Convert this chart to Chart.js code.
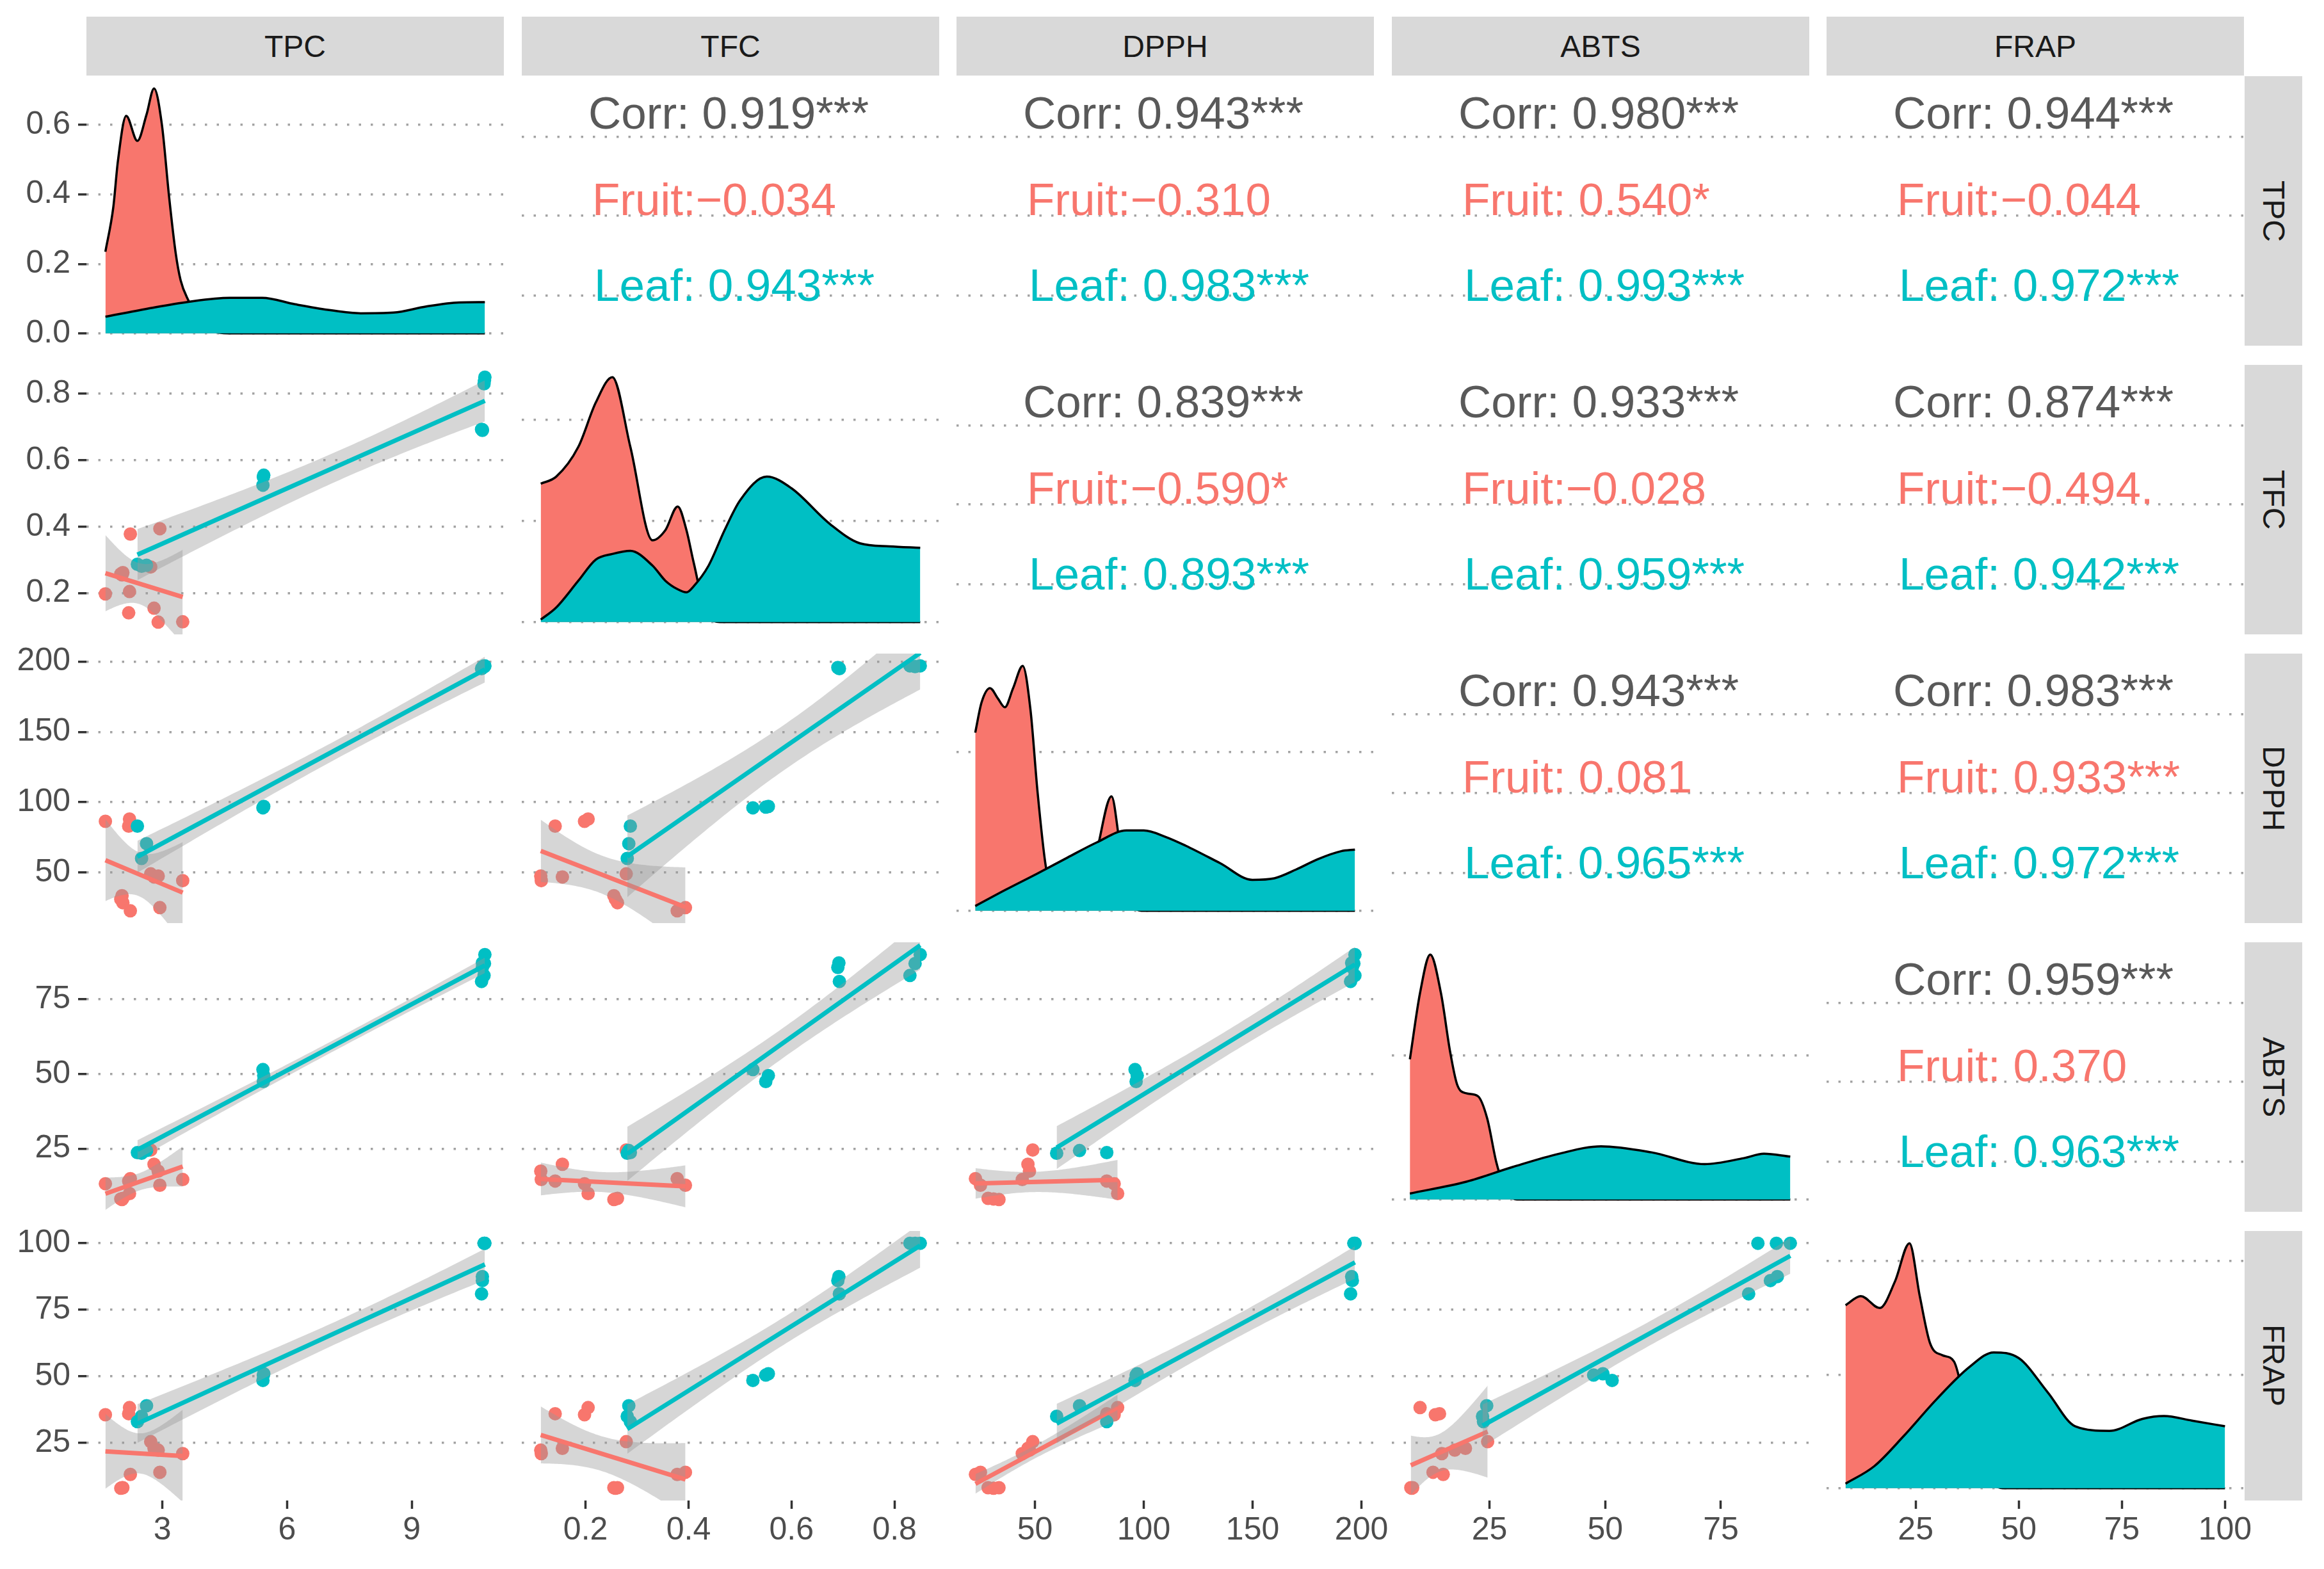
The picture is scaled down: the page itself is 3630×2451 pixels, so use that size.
<!DOCTYPE html>
<html>
<head>
<meta charset="utf-8">
<script src="https://cdn.jsdelivr.net/npm/chart.js@4.4.1/dist/chart.umd.min.js"></script>
<style>
  html, body { margin: 0; padding: 0; background: #fff; }
  body { width: 3630px; height: 2451px; position: relative; overflow: hidden;
         font-family: "Liberation Sans", Arial, sans-serif; }
  .panel { position: absolute; }
  .strip { position: absolute; background: #d9d9d9; color: #1a1a1a; font-size: 48px;
           display: flex; align-items: center; justify-content: center; }
  .strip.right { writing-mode: vertical-rl; }
</style>
</head>
<body>
<script>
const variables = ['TPC', 'TFC', 'DPPH', 'ABTS', 'FRAP'];

// one value per sample, same order in every array of a group
const fruitTPC  = [1.63, 2.21, 2.19, 2.23, 2.03, 2.05, 2.72, 2.80, 3.49, 2.94, 2.90, 2.00];
const fruitTFC  = [0.198, 0.205, 0.141, 0.378, 0.255, 0.262, 0.279, 0.155, 0.114, 0.394, 0.113, 0.258];
const fruitDPPH = [86.4, 88.0, 83.0, 22.7, 33.5, 28.5, 49.0, 46.8, 44.2, 25.0, 47.5, 31.0];
const fruitABTS = [13.3, 10.0, 14.2, 15.0, 8.0, 8.4, 24.6, 19.8, 14.7, 12.8, 17.5, 8.2];
const fruitFRAP = [35.6, 38.3, 36.0, 13.2, 8.2, 8.2, 25.5, 23.0, 21.0, 14.0, 22.3, 8.0];

const leafTPC  = [10.76, 10.75, 10.74, 10.70, 10.70, 10.68, 5.42, 5.44, 5.43, 2.40, 2.62, 2.50];
const leafTFC  = [0.850, 0.840, 0.830, 0.692, 0.690, 0.693, 0.525, 0.555, 0.550, 0.287, 0.284, 0.281];
const leafDPPH = [197.0, 196.5, 197.0, 195.5, 195.8, 195.0, 96.0, 97.0, 96.5, 83.0, 70.5, 60.0];
const leafABTS = [90.0, 87.0, 83.0, 87.2, 85.7, 81.0, 51.5, 49.5, 47.5, 23.7, 24.4, 23.5];
const leafFRAP = [100.0, 100.0, 100.0, 87.5, 86.0, 81.0, 48.5, 51.0, 50.5, 33.0, 39.0, 35.0];

// density curves on the diagonal (x = value, y = density)
const tpcFruitDensX = [1.63, 1.82, 1.93, 2.13, 2.40, 2.62, 2.80, 2.99, 3.16, 3.32, 3.44, 3.63, 3.90, 4.20, 4.60, 10.76];
const tpcFruitDensY = [0.235, 0.363, 0.495, 0.626, 0.554, 0.630, 0.705, 0.600, 0.396, 0.232, 0.153, 0.094, 0.035, 0.008, 0, 0];
const tpcLeafDensX  = [1.63, 2.64, 3.63, 4.62, 5.40, 6.19, 6.98, 7.77, 8.56, 9.35, 10.14, 10.76];
const tpcLeafDensY  = [0.048, 0.071, 0.091, 0.1025, 0.1025, 0.084, 0.068, 0.058, 0.060, 0.0775, 0.089, 0.090];

const tfcFruitDensX = [0.113, 0.143, 0.186, 0.220, 0.252, 0.287, 0.330, 0.355, 0.379, 0.396, 0.410, 0.439, 0.470, 0.850];
const tfcFruitDensY = [2.74, 2.88, 3.47, 4.35, 4.85, 3.47, 1.62, 1.82, 2.29, 1.82, 1.18, 0.06, 0, 0];
const tfcLeafDensX  = [0.113, 0.143, 0.186, 0.220, 0.252, 0.287, 0.330, 0.355, 0.379, 0.396, 0.410, 0.439, 0.470, 0.500, 0.552, 0.600, 0.675, 0.733, 0.790, 0.850];
const tfcLeafDensY  = [0.05, 0.29, 0.82, 1.24, 1.35, 1.41, 1.12, 0.82, 0.65, 0.59, 0.71, 1.12, 1.82, 2.41, 2.88, 2.65, 1.94, 1.56, 1.50, 1.47];

const dpphFruitDensX = [22.6, 25.5, 29.4, 33.0, 36.2, 40.0, 44.4, 48.0, 51.2, 55.0, 59.3, 65.0, 72.0, 78.4, 85.2, 89.0, 93.4, 100, 197];
const dpphFruitDensY = [0.0224, 0.0262, 0.0280, 0.0267, 0.0256, 0.0280, 0.0308, 0.0252, 0.0150, 0.0056, 0.0013, 0.0002, 0.0011, 0.0075, 0.0144, 0.0084, 0.0015, 0, 0];
const dpphLeafDensX  = [22.6, 36.2, 51.2, 65.0, 78.4, 92.0, 100, 110, 119.2, 135, 149.9, 160, 170, 180, 190.7, 197];
const dpphLeafDensY  = [0.0006, 0.0026, 0.0047, 0.0067, 0.0086, 0.0101, 0.0101, 0.0093, 0.0082, 0.0060, 0.0039, 0.0041, 0.0052, 0.0065, 0.0075, 0.0077];

const abtsFruitDensX = [7.8, 10.0, 12.2, 14.5, 16.5, 18.0, 20.0, 22.5, 24.5, 26.5, 28.3, 31.0, 90.0];
const abtsFruitDensY = [0.0487, 0.0718, 0.0851, 0.0718, 0.0513, 0.0400, 0.0369, 0.0359, 0.0282, 0.0128, 0.0041, 0, 0];
const abtsLeafDensX  = [7.8, 20, 30, 40, 49.1, 60, 71.5, 80, 84.3, 90];
const abtsLeafDensY  = [0.0021, 0.0062, 0.0113, 0.0159, 0.0185, 0.0164, 0.0123, 0.0144, 0.0159, 0.0149];

const frapFruitDensX = [8.0, 11.7, 16.3, 20.0, 23.5, 26.0, 28.5, 31.5, 34.3, 37.5, 40.4, 44.0, 47.0, 100];
const frapFruitDensY = [0.0322, 0.0338, 0.0317, 0.0364, 0.0431, 0.0338, 0.0255, 0.0234, 0.0223, 0.0130, 0.0047, 0.0005, 0, 0];
const frapLeafDensX  = [8.0, 15, 22, 30, 38, 43.9, 50, 57, 63.7, 72, 80, 85.2, 92, 100];
const frapLeafDensY  = [0.0008, 0.0039, 0.0091, 0.0156, 0.0213, 0.0239, 0.0229, 0.0169, 0.0109, 0.0101, 0.0122, 0.0127, 0.0119, 0.0109];

const tpcTicks = [3, 6, 9];
const tfcTicks = [0.2, 0.4, 0.6, 0.8];
const dpphTicks = [50, 100, 150, 200];
const abtsTicks = [25, 50, 75];
const frapTicks = [25, 50, 75, 100];
const densityTicks = [0.0, 0.2, 0.4, 0.6];

// upper triangle, row by row
const corrPairs = [['TPC', 'TFC'], ['TPC', 'DPPH'], ['TPC', 'ABTS'], ['TPC', 'FRAP'],
                   ['TFC', 'DPPH'], ['TFC', 'ABTS'], ['TFC', 'FRAP'],
                   ['DPPH', 'ABTS'], ['DPPH', 'FRAP'], ['ABTS', 'FRAP']];
const corrTotal = ['0.919***', '0.943***', '0.980***', '0.944***', '0.839***', '0.933***', '0.874***', '0.943***', '0.983***', '0.959***'];
const corrFruit = ['-0.034', '-0.310', '0.540*', '-0.044', '-0.590*', '-0.028', '-0.494.', '0.081', '0.933***', '0.370'];
const corrLeaf  = ['0.943***', '0.983***', '0.993***', '0.972***', '0.893***', '0.959***', '0.942***', '0.965***', '0.972***', '0.963***'];

const FRUIT = '#F8766D';
const LEAF = '#00BFC4';
const GRID = '#a3a3a3';
const FONT = '"Liberation Sans", Arial, sans-serif';

// page layout (pixels)
const LEFT0 = 135, COL_STEP = 679.5, PW = 652;
const TOP0 = 119, ROW_STEP = 451, PH = 421;
const AXIS_W = 135, AXIS_H = 107, M = 50;

Chart.defaults.font.family = FONT;

const fruit = { TPC: fruitTPC, TFC: fruitTFC, DPPH: fruitDPPH, ABTS: fruitABTS, FRAP: fruitFRAP };
const leaf = { TPC: leafTPC, TFC: leafTFC, DPPH: leafDPPH, ABTS: leafABTS, FRAP: leafFRAP };
const tickSets = { TPC: tpcTicks, TFC: tfcTicks, DPPH: dpphTicks, ABTS: abtsTicks, FRAP: frapTicks };
const decimals = { TPC: 0, TFC: 1, DPPH: 0, ABTS: 0, FRAP: 0 };
const densities = {
    TPC:  { fx: tpcFruitDensX,  fy: tpcFruitDensY,  lx: tpcLeafDensX,  ly: tpcLeafDensY },
    TFC:  { fx: tfcFruitDensX,  fy: tfcFruitDensY,  lx: tfcLeafDensX,  ly: tfcLeafDensY },
    DPPH: { fx: dpphFruitDensX, fy: dpphFruitDensY, lx: dpphLeafDensX, ly: dpphLeafDensY },
    ABTS: { fx: abtsFruitDensX, fy: abtsFruitDensY, lx: abtsLeafDensX, ly: abtsLeafDensY },
    FRAP: { fx: frapFruitDensX, fy: frapFruitDensY, lx: frapLeafDensX, ly: frapLeafDensY }
};

const mean = a => a.reduce((s, v) => s + v, 0) / a.length;

// linear fit with 95% band, like geom_smooth(method = "lm")
const T95 = { 8: 2.306, 9: 2.262, 10: 2.228, 11: 2.201 };
const lmFit = (xs, ys) => {
    const n = xs.length, mx = mean(xs), my = mean(ys);
    let sxx = 0, sxy = 0;
    xs.forEach((x, k) => { sxx += (x - mx) ** 2; sxy += (x - mx) * (ys[k] - my); });
    const b = sxy / sxx, a = my - b * mx;
    const s = Math.sqrt(xs.reduce((acc, x, k) => acc + (ys[k] - a - b * x) ** 2, 0) / (n - 2));
    const t = T95[n - 2] || 2.2;
    const lo = Math.min(...xs), hi = Math.max(...xs);
    const upper = [], lower = [];
    for (let i = 0; i < 80; i++) {
        const x = lo + (hi - lo) * i / 79;
        const half = t * s * Math.sqrt(1 / n + (x - mx) ** 2 / sxx);
        upper.push({ x, y: a + b * x + half });
        lower.push({ x, y: a + b * x - half });
    }
    return { line: [{ x: lo, y: a + b * lo }, { x: hi, y: a + b * hi }], upper, lower };
};

const range = v => {
    const all = fruit[v].concat(leaf[v]);
    const lo = Math.min(...all), hi = Math.max(...all), p = (hi - lo) * 0.05;
    return [lo - p, hi + p];
};

const fmtValue = s => (s[0] === '-' ? '\u2212' + s.slice(1) : ' ' + s);
const toPoints = (xs, ys) => xs.map((x, k) => ({ x, y: ys[k] }));

function scatterDatasets(xVar, yVar) {
    const sets = [];
    const pts = (g, color, order) => ({
        type: 'scatter', order,
        data: toPoints(g[xVar], g[yVar]),
        pointRadius: 10.5, pointBackgroundColor: color, pointBorderWidth: 0
    });
    sets.push(pts(fruit, FRUIT, 7), pts(leaf, LEAF, 6));
    [[fruit, FRUIT, 5], [leaf, LEAF, 2]].forEach(([g, color, o]) => {
        const f = lmFit(g[xVar], g[yVar]);
        sets.push({ type: 'line', order: o, data: f.upper, fill: '+1', backgroundColor: 'rgba(153,153,153,0.4)',
                    borderColor: 'transparent', borderWidth: 0, pointRadius: 0 });
        sets.push({ type: 'line', order: o, data: f.lower, fill: false,
                    borderColor: 'transparent', borderWidth: 0, pointRadius: 0 });
        sets.push({ type: 'line', order: o - 1, data: f.line, fill: false,
                    borderColor: color, borderWidth: 7, pointRadius: 0 });
    });
    return sets;
}

function makePanel(i, j) {
    const xVar = variables[j], yVar = variables[i];
    const axisW = j === 0 ? AXIS_W : 0, axisH = i === 4 ? AXIS_H : 0;
    const left = Math.round(LEFT0 + j * COL_STEP) - axisW - M;
    const top = TOP0 + i * ROW_STEP - M;
    const w = M + axisW + PW + M, h = M + PH + axisH + M;

    const box = document.createElement('div');
    box.className = 'panel';
    Object.assign(box.style, { left: left + 'px', top: top + 'px', width: w + 'px', height: h + 'px' });
    const canvas = document.createElement('canvas');
    box.appendChild(canvas);
    document.body.appendChild(box);

    const xr = range(xVar);
    let datasets = [], yMin, yMax, yTicks = null, yDec = decimals[yVar], plugins = [];

    if (i > j) {
        datasets = scatterDatasets(xVar, yVar);
        const yr = range(yVar);
        yMin = yr[0]; yMax = yr[1]; yTicks = tickSets[yVar];
    } else if (i === j) {
        const d = densities[xVar];
        const peak = Math.max(...d.fy, ...d.ly);
        yMin = -0.05 * peak; yMax = 1.05 * peak;
        if (i === 0) { yTicks = densityTicks; yDec = 1; }
        datasets = [
            { type: 'line', order: 1, data: toPoints(d.lx, d.ly), fill: 'origin', backgroundColor: LEAF,
              borderColor: '#000', borderWidth: 3.5, pointRadius: 0, cubicInterpolationMode: 'monotone' },
            { type: 'line', order: 2, data: toPoints(d.fx, d.fy), fill: 'origin', backgroundColor: FRUIT,
              borderColor: '#000', borderWidth: 3.5, pointRadius: 0, cubicInterpolationMode: 'monotone' }
        ];
    } else {
        yMin = 0; yMax = 1;
        yTicks = [1 - 0.226, 1 - 0.518, 1 - 0.815];
        const k = corrPairs.findIndex(p => p[0] === yVar && p[1] === xVar);
        const lines = [
            { text: 'Corr: ' + corrTotal[k], color: '#595959', dx: 104, fy: 0.195 },
            { text: 'Fruit:' + fmtValue(corrFruit[k]), color: FRUIT, dx: 110, fy: 0.515 },
            { text: 'Leaf:' + fmtValue(corrLeaf[k]), color: LEAF, dx: 113, fy: 0.834 }
        ];
        plugins.push({
            id: 'corrText',
            afterDraw(chart) {
                const { ctx, chartArea: a } = chart;
                ctx.save();
                ctx.font = '71px ' + FONT;
                ctx.textAlign = 'left';
                ctx.textBaseline = 'alphabetic';
                lines.forEach(l => {
                    ctx.fillStyle = l.color;
                    ctx.fillText(l.text, a.left + l.dx, a.top + l.fy * (a.bottom - a.top));
                });
                ctx.restore();
            }
        });
    }

    new Chart(canvas, {
        type: 'scatter',
        data: { datasets },
        plugins,
        options: {
            responsive: true, maintainAspectRatio: false, animation: false, events: [],
            layout: { padding: M },
            plugins: { legend: { display: false }, tooltip: { enabled: false } },
            scales: {
                x: {
                    type: 'linear', min: xr[0], max: xr[1], display: i === 4,
                    afterBuildTicks: s => { s.ticks = tickSets[xVar].map(v => ({ value: v })); },
                    afterFit: s => { s.height = axisH; },
                    ticks: { font: { size: 50 }, color: '#4d4d4d', padding: 4, maxRotation: 0, autoSkip: false,
                             callback: v => v.toFixed(decimals[xVar]) },
                    grid: { drawOnChartArea: false, tickLength: 13, tickWidth: 3.5, tickColor: '#333333' },
                    border: { display: false }
                },
                y: {
                    type: 'linear', min: yMin, max: yMax,
                    afterBuildTicks: s => { if (yTicks) s.ticks = yTicks.map(v => ({ value: v })); },
                    afterFit: s => { s.width = axisW; },
                    ticks: { display: j === 0, font: { size: 50 }, color: '#4d4d4d', padding: 12,
                             includeBounds: false, maxTicksLimit: 5, callback: v => Number(v).toFixed(yDec) },
                    grid: { color: GRID, lineWidth: 3.5, drawTicks: j === 0, tickLength: 13, tickWidth: 3.5,
                            tickColor: '#333333', tickBorderDash: [20, 0] },
                    border: { display: false, dash: [3.5, 15] }
                }
            }
        }
    });
}

for (let i = 0; i < 5; i++) {
    for (let j = 0; j < 5; j++) makePanel(i, j);
}

variables.forEach((v, k) => {
    const top = document.createElement('div');
    top.className = 'strip';
    top.textContent = v;
    Object.assign(top.style, { left: Math.round(LEFT0 + k * COL_STEP) + 'px', top: '26px',
                               width: PW + 'px', height: '92px' });
    document.body.appendChild(top);

    const side = document.createElement('div');
    side.className = 'strip right';
    side.textContent = v;
    Object.assign(side.style, { left: '3506px', top: (TOP0 + k * ROW_STEP) + 'px',
                                width: '90px', height: PH + 'px' });
    document.body.appendChild(side);
});
</script>
</body>
</html>
